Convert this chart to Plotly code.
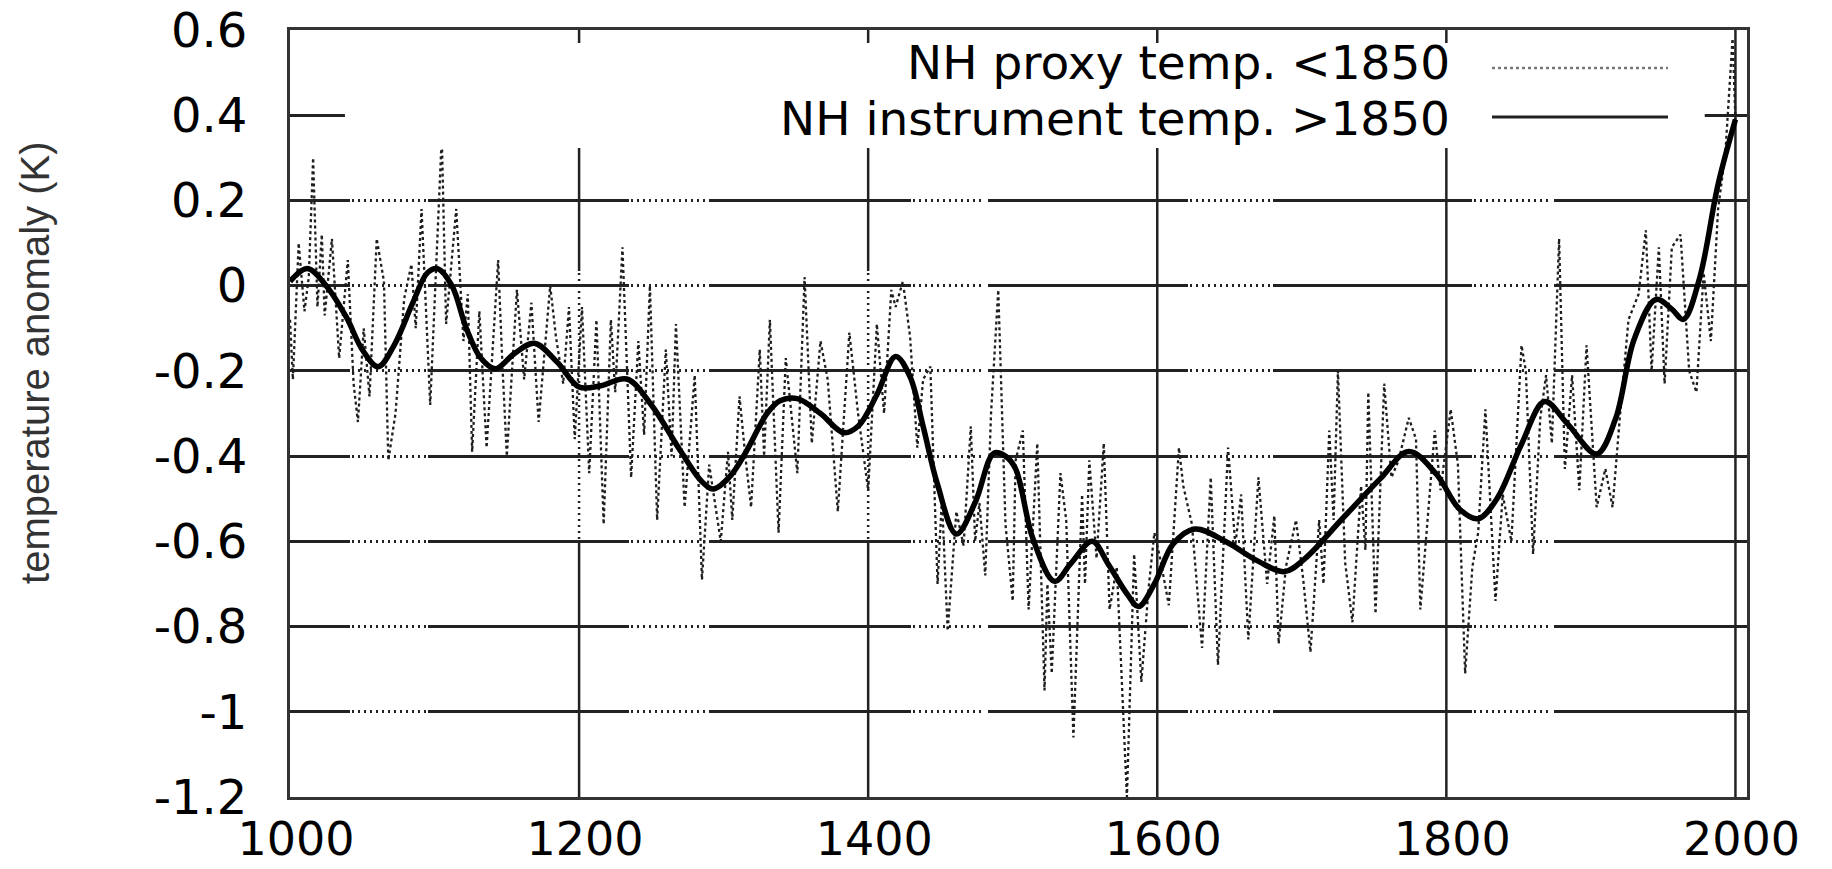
import plotly.graph_objects as go

# ---------------- data ----------------
proxy_years = [1000, 1002, 1006, 1010, 1013, 1016, 1019, 1022, 1024, 1029, 1034, 1040, 1044, 1047, 1051, 1055,
               1060, 1065, 1068, 1073, 1079, 1084, 1087, 1091, 1097, 1105, 1108, 1115, 1120, 1123, 1126, 1131,
               1136, 1144, 1147, 1150, 1157, 1162, 1167, 1172, 1180, 1184, 1189, 1193, 1197, 1202, 1207, 1212,
               1217, 1222, 1225, 1230, 1236, 1241, 1245, 1249, 1254, 1260, 1264, 1267, 1273, 1280, 1285, 1290,
               1298, 1303, 1306, 1311, 1315, 1319, 1325, 1328, 1332, 1338, 1343, 1348, 1351, 1356, 1361, 1367,
               1372, 1379, 1387, 1393, 1400, 1406, 1411, 1416, 1419, 1424, 1429, 1434, 1438, 1443, 1448, 1451,
               1455, 1461, 1466, 1471, 1474, 1477, 1481, 1485, 1490, 1495, 1500, 1502, 1507, 1511, 1517, 1522,
               1524, 1527, 1533, 1537, 1542, 1548, 1550, 1553, 1558, 1563, 1567, 1572, 1579, 1584, 1589, 1594,
               1598, 1602, 1608, 1615, 1618, 1624, 1631, 1637, 1642, 1649, 1654, 1658, 1663, 1670, 1676, 1681,
               1684, 1689, 1696, 1701, 1706, 1712, 1715, 1719, 1722, 1725, 1730, 1735, 1741, 1744, 1746, 1751,
               1757, 1762, 1767, 1774, 1779, 1782, 1787, 1792, 1796, 1803, 1808, 1813, 1818, 1822, 1827, 1834,
               1839, 1845, 1852, 1855, 1860, 1865, 1869, 1873, 1878, 1882, 1887, 1892, 1897, 1904, 1910, 1915,
               1920, 1926, 1933, 1938, 1942, 1947, 1951, 1956, 1962, 1968, 1973, 1978, 1983, 1988, 1993, 1998,
               2000]
proxy_vals = [-0.08, -0.22, 0.10, -0.06, 0.02, 0.30, -0.05, 0.12, -0.07, 0.11, -0.17, 0.06, -0.23, -0.32, -0.10, -0.26,
              0.11, 0.01, -0.41, -0.30, -0.03, 0.05, -0.10, 0.18, -0.28, 0.35, -0.09, 0.18, -0.13, -0.02, -0.39, -0.06,
              -0.38, 0.06, -0.19, -0.40, -0.01, -0.22, -0.04, -0.32, 0.00, -0.12, -0.23, -0.05, -0.36, -0.05, -0.44, -0.08,
              -0.56, -0.08, -0.25, 0.09, -0.45, -0.13, -0.35, 0.00, -0.55, -0.15, -0.40, -0.09, -0.52, -0.21, -0.69, -0.42,
              -0.60, -0.39, -0.55, -0.26, -0.40, -0.52, -0.15, -0.40, -0.08, -0.58, -0.17, -0.35, -0.44, 0.02, -0.37, -0.13,
              -0.22, -0.53, -0.11, -0.30, -0.48, -0.09, -0.30, -0.01, -0.05, 0.01, -0.12, -0.38, -0.22, -0.19, -0.70, -0.50,
              -0.81, -0.53, -0.61, -0.33, -0.60, -0.51, -0.68, -0.30, -0.01, -0.56, -0.74, -0.41, -0.34, -0.76, -0.37, -0.95,
              -0.70, -0.91, -0.44, -0.55, -1.06, -0.49, -0.70, -0.41, -0.64, -0.37, -0.76, -0.66, -1.20, -0.63, -0.93, -0.71,
              -0.58, -0.64, -0.75, -0.38, -0.47, -0.56, -0.85, -0.45, -0.89, -0.38, -0.61, -0.49, -0.83, -0.45, -0.70, -0.54,
              -0.84, -0.66, -0.55, -0.69, -0.86, -0.55, -0.70, -0.34, -0.55, -0.20, -0.65, -0.79, -0.47, -0.62, -0.25, -0.77,
              -0.23, -0.45, -0.41, -0.31, -0.36, -0.76, -0.55, -0.34, -0.48, -0.29, -0.42, -0.91, -0.66, -0.58, -0.29, -0.74,
              -0.49, -0.60, -0.14, -0.20, -0.63, -0.31, -0.21, -0.37, 0.11, -0.43, -0.21, -0.48, -0.14, -0.52, -0.43, -0.52,
              -0.31, -0.08, -0.02, 0.13, -0.20, 0.09, -0.23, 0.09, 0.12, -0.20, -0.25, 0.03, -0.13, 0.18, 0.31, 0.58,
              0.39]

smooth_years = [1000, 1012, 1025, 1039, 1050, 1061, 1072, 1085, 1095, 1102, 1112, 1122, 1132, 1142, 1155, 1169,
                1185, 1200, 1215, 1233, 1250, 1270, 1285, 1293, 1305, 1316, 1330, 1339, 1351, 1367, 1383, 1393,
                1406, 1419, 1429, 1438, 1448, 1461, 1474, 1487, 1495, 1502, 1514, 1529, 1540, 1555, 1566, 1579,
                1587, 1598, 1611, 1626, 1647, 1670, 1688, 1702, 1728, 1754, 1774, 1793, 1809, 1822, 1835, 1852,
                1868, 1884, 1904, 1917, 1930, 1945, 1956, 1964, 1975, 1988, 2000]
smooth_vals = [0.01, 0.04, 0.00, -0.074, -0.15, -0.19, -0.14, -0.04, 0.03, 0.04, 0.00, -0.10, -0.17, -0.195, -0.16, -0.135,
               -0.18, -0.238, -0.235, -0.219, -0.28, -0.387, -0.46, -0.477, -0.445, -0.387, -0.30, -0.27, -0.265, -0.30, -0.345, -0.33,
               -0.256, -0.166, -0.214, -0.33, -0.467, -0.583, -0.509, -0.393, -0.40, -0.43, -0.594, -0.694, -0.653, -0.60, -0.653, -0.723,
               -0.753, -0.70, -0.606, -0.571, -0.60, -0.647, -0.671, -0.641, -0.547, -0.454, -0.389, -0.442, -0.524, -0.547, -0.50, -0.372,
               -0.272, -0.325, -0.395, -0.313, -0.125, -0.032, -0.055, -0.079, 0.015, 0.238, 0.39]

x_ticks = [1000, 1200, 1400, 1600, 1800, 2000]
x_ticktext = ["1000", "1200", "1400", "1600", "1800", "2000"]
y_ticks = [-1.2, -1.0, -0.8, -0.6, -0.4, -0.2, 0.0, 0.2, 0.4, 0.6]
y_ticktext = ["-1.2", "-1", "-0.8", "-0.6", "-0.4", "-0.2", "0", "0.2", "0.4", "0.6"]
legend_labels = ["NH proxy temp. <1850", "NH instrument temp. >1850"]
y_title = "temperature anomaly (K)"

# ---------------- styling helpers ----------------
GRID = "#222222"


def mixed_dash(segments):
    """segments: list of ('solid'|'dot', length_px) -> dash string"""
    arr = []
    for kind, length in segments:
        if kind == "solid":
            arr += [length, 0]
        else:
            n = int(length // 6)
            arr[-1] += 2
            for _ in range(n):
                arr += [2, 4]
            arr[-1] += length - 2 - 6 * n
    arr[-1] += 3000
    return ",".join(f"{max(int(round(v)), 0)}px" for v in arr)


h_dash = mixed_dash([("solid", 60), ("dot", 78), ("solid", 201), ("dot", 80), ("solid", 202), ("dot", 77),
                     ("solid", 200), ("dot", 85), ("solid", 199), ("dot", 82), ("solid", 200)])
v_dash_a = mixed_dash([("solid", 241), ("dot", 270), ("solid", 260)])

fig = go.Figure()

fig.add_trace(go.Scatter(
    x=proxy_years, y=proxy_vals, mode="lines", name=legend_labels[0],
    line=dict(color="#1e1e1e", width=2.3, dash="dot"), showlegend=False))
fig.add_trace(go.Scatter(
    x=smooth_years, y=smooth_vals, mode="lines", name=legend_labels[1],
    line=dict(color="black", width=5.5, shape="spline", smoothing=1.0), showlegend=False))

shapes = []
for xv in x_ticks[1:]:
    shapes.append(dict(type="line", xref="x", yref="paper", x0=xv, x1=xv, y0=1, y1=0,
                       line=dict(color=GRID, width=2.5,
                                 dash=v_dash_a if xv in (1200, 1400) else "solid"),
                       layer="below"))
# legend background box (opaque, covers grid like the gnuplot key)
shapes.append(dict(type="rect", xref="paper", yref="paper", x0=0.0377, x1=0.971, y0=0.846, y1=0.983,
                   fillcolor="white", line=dict(width=0), layer="above"))
# legend samples
shapes.append(dict(type="line", xref="paper", yref="paper", x0=0.825, x1=0.9458, y0=0.9505, y1=0.9505,
                   line=dict(color="#777777", width=2.5, dash="dot"), layer="above"))
shapes.append(dict(type="line", xref="paper", yref="paper", x0=0.825, x1=0.9458, y0=0.8866, y1=0.8866,
                   line=dict(color="#222222", width=3), layer="above"))

annotations = [
    dict(text=legend_labels[0], xref="paper", yref="paper", x=0.7975, y=0.958, xanchor="right",
         yanchor="middle", showarrow=False, font=dict(family="DejaVu Sans", size=47, color="black")),
    dict(text=legend_labels[1], xref="paper", yref="paper", x=0.7975, y=0.884, xanchor="right",
         yanchor="middle", showarrow=False, font=dict(family="DejaVu Sans", size=47, color="black")),
    dict(text=y_title, xref="paper", yref="paper", x=-0.175, y=0.566, xanchor="center", yanchor="middle",
         textangle=-90, showarrow=False, font=dict(family="Liberation Sans", size=40, color="#333333")),
]

fig.update_layout(
    width=1832, height=869,
    margin=dict(l=290, r=85, t=30, b=72, autoexpand=False),
    paper_bgcolor="white", plot_bgcolor="white",
    shapes=shapes, annotations=annotations, showlegend=False,
    xaxis=dict(range=[1000, 2008], tickvals=x_ticks, ticktext=x_ticktext, showgrid=False,
               zeroline=False, showline=True, mirror=True, linecolor="#333333", linewidth=3,
               ticks="", ticklabelstandoff=0, ticklabelshift=6, automargin=False,
               tickfont=dict(family="DejaVu Sans", size=46, color="black")),
    yaxis=dict(range=[-1.2, 0.6], tickvals=y_ticks, ticktext=y_ticktext, showgrid=True,
               gridcolor=GRID, gridwidth=2.5, griddash=h_dash, automargin=False,
               zeroline=False, showline=True, mirror=True, linecolor="#333333", linewidth=3,
               ticks="", ticklabelstandoff=30,
               tickfont=dict(family="DejaVu Sans", size=48, color="black")),
)

fig.write_html("out.html")
